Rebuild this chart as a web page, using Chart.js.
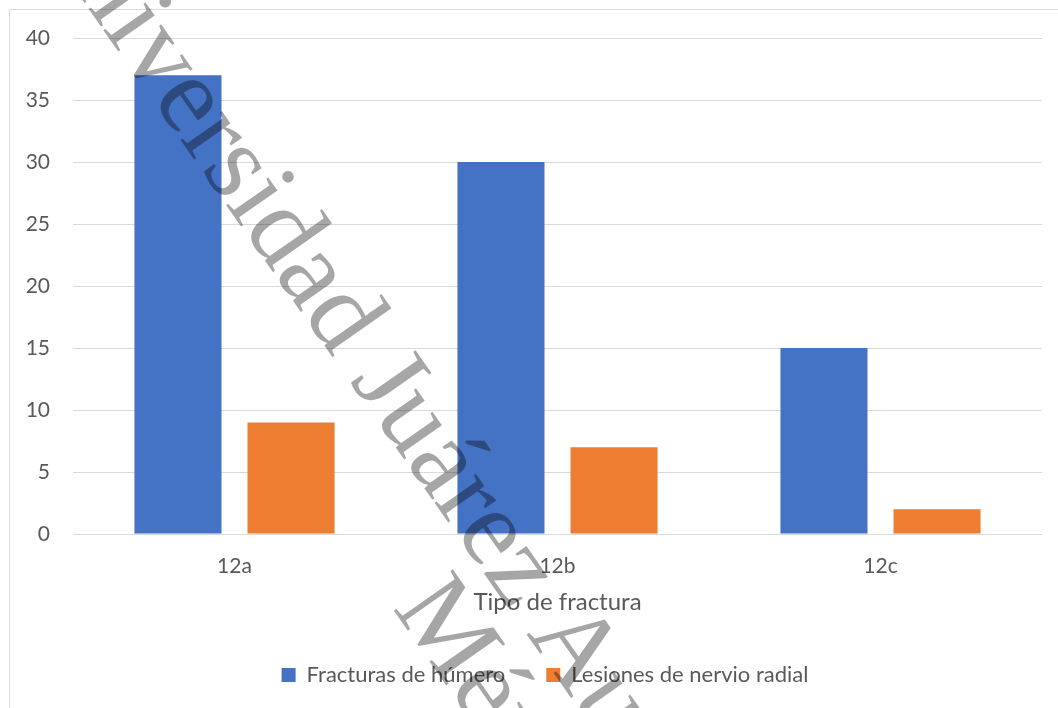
<!DOCTYPE html>
<html>
<head>
<meta charset="utf-8">
<script src="https://cdn.jsdelivr.net/npm/chart.js@4"></script>
<style>
  html, body { margin: 0; padding: 0; background: #fff; }
  #caja { position: relative; width: 1058px; height: 708px; }
</style>
</head>
<body>
<div id="caja"><canvas id="grafico-principal"></canvas></div>
<script>
const categorias = ["12a", "12b", "12c"];
const fracturasHumero = [37, 30, 15];
const lesionesNervio = [9, 7, 2];
const nombresSeries = ["Fracturas de húmero", "Lesiones de nervio radial"];
const tituloEjeX = "Tipo de fractura";
const ejeYMax = 40;
const ejeYPaso = 5;

const marcaAgua = ["Universidad Juárez Autónoma de Tabasco", "México"];

const gris = "#595959";
const fuente = "Lato";

// borde del area del grafico y marca de agua
const decoracion = {
  id: "decoracion",
  afterLayout(chart) {
    // la leyenda va un poco a la derecha, como en el original
    chart.legend.left += 11;
    chart.legend.right += 11;
  },
  beforeDraw(chart) {
    const ctx = chart.ctx;
    ctx.save();
    ctx.fillStyle = "#fff";
    ctx.fillRect(0, 0, chart.width, chart.height);
    ctx.strokeStyle = "#d9d9d9";
    ctx.lineWidth = 1;
    ctx.beginPath();
    ctx.moveTo(9.5, chart.height);
    ctx.lineTo(9.5, 9.5);
    ctx.lineTo(chart.width, 9.5);
    ctx.stroke();
    ctx.restore();
  },
  afterDraw(chart) {
    const ctx = chart.ctx;
    const ang = 55 * Math.PI / 180;
    const origenes = [[25, -82], [392, 608]];
    ctx.save();
    ctx.font = "110px 'Liberation Serif'";
    ctx.fillStyle = "rgba(0, 0, 0, 0.35)";
    ctx.textBaseline = "alphabetic";
    for (let i = 0; i < marcaAgua.length; i++) {
      ctx.save();
      ctx.translate(origenes[i][0], origenes[i][1]);
      ctx.rotate(ang);
      ctx.fillText(marcaAgua[i], 0, 0);
      ctx.restore();
    }
    ctx.restore();
  }
};

let ctx = document.getElementById("grafico-principal").getContext("2d");
let chart = new Chart(ctx, {
  type: "bar",
  data: {
    labels: categorias,
    datasets: [
      {
        label: nombresSeries[0],
        data: fracturasHumero,
        backgroundColor: "#4472C4",
        borderWidth: 0,
      },
      {
        label: nombresSeries[1],
        data: lesionesNervio,
        backgroundColor: "#ED7D31",
        borderWidth: 0,
      },
    ],
  },
  options: {
    responsive: true,
    maintainAspectRatio: false,
    animation: false,
    categoryPercentage: 0.7,
    barPercentage: 0.77,
    layout: {
      padding: { left: 26, right: 16, top: 38, bottom: 12 },
    },
    plugins: {
      tooltip: { enabled: false },
      legend: {
        position: "bottom",
        labels: {
          color: gris,
          font: { family: fuente, size: 22 },
          boxWidth: 14,
          boxHeight: 14,
          padding: 41,
        },
      },
    },
    scales: {
      x: {
        grid: { display: false },
        border: { display: false },
        ticks: {
          color: gris,
          font: { family: fuente, size: 21 },
          padding: 12,
        },
        title: {
          display: true,
          text: tituloEjeX,
          color: gris,
          font: { family: fuente, size: 24 },
          padding: { top: 4, bottom: 6 },
        },
        afterFit: (s) => { s.height = 89; },
      },
      y: {
        min: 0,
        max: ejeYMax,
        grid: { color: "#d9d9d9", drawTicks: false },
        border: { display: false },
        ticks: {
          stepSize: ejeYPaso,
          color: gris,
          font: { family: fuente, size: 21 },
          padding: 23,
        },
        afterFit: (s) => { s.width = 47; },
      },
    },
  },
  plugins: [decoracion],
});
</script>
</body>
</html>
